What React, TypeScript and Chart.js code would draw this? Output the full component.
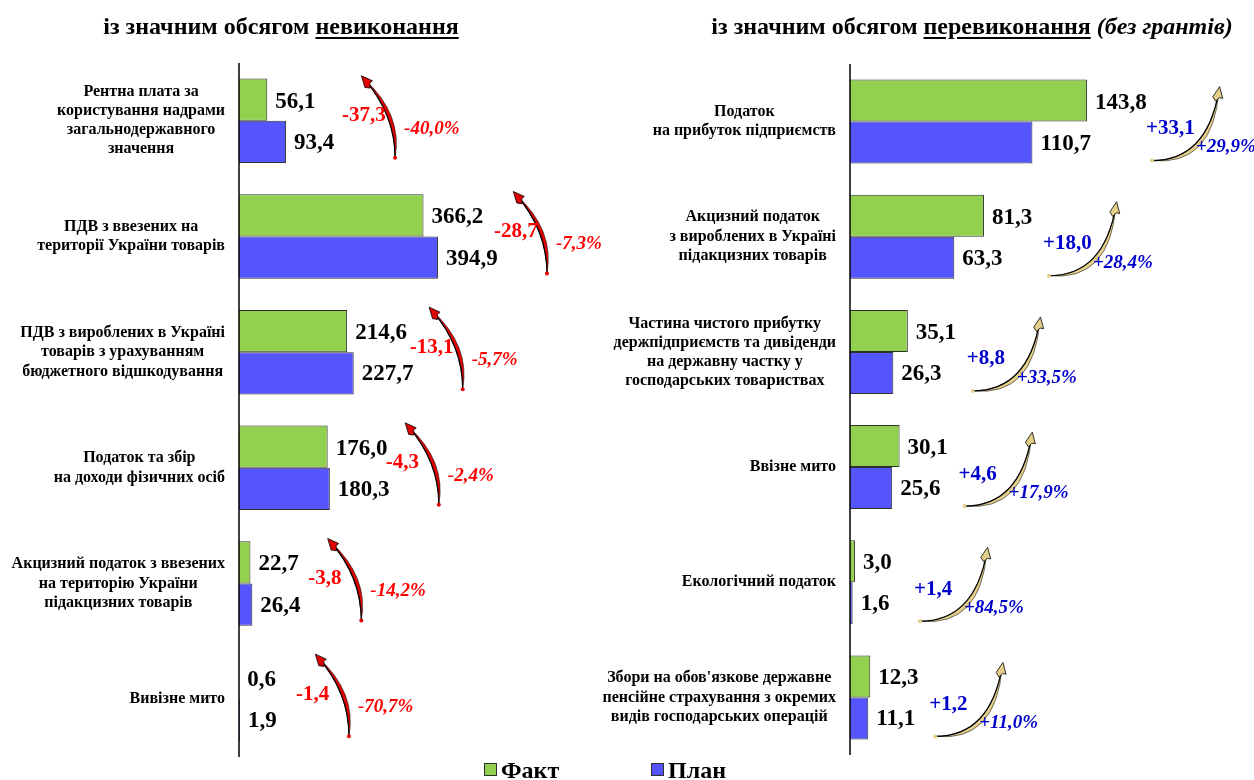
import React, { useEffect, useRef } from "react";
import { Chart, registerables } from "chart.js";
Chart.register(...registerables);

const FONT = '"Liberation Serif", "Times New Roman", serif';

// ---------- data ----------
const leftCategories: string[][] = [
  ["Рентна плата за", "користування надрами", "загальнодержавного", "значення"],
  ["ПДВ з ввезених на", "території України товарів"],
  ["ПДВ з вироблених в Україні", "товарів з урахуванням", "бюджетного відшкодування"],
  ["Податок та збір", "на доходи фізичних осіб"],
  ["Акцизний податок з ввезених", "на територію України", "підакцизних товарів"],
  ["Вивізне мито"],
];
const leftFact = [56.1, 366.2, 214.6, 176.0, 22.7, 0.6];
const leftPlan = [93.4, 394.9, 227.7, 180.3, 26.4, 1.9];
const leftDiff = [-37.3, -28.7, -13.1, -4.3, -3.8, -1.4];
const leftPct = [-40.0, -7.3, -5.7, -2.4, -14.2, -70.7];

const rightCategories: string[][] = [
  ["Податок", "на прибуток підприємств"],
  ["Акцизний податок", "з вироблених в Україні", "підакцизних товарів"],
  ["Частина чистого прибутку", "держпідприємств та дивіденди", "на державну частку у", "господарських товариствах"],
  ["Ввізне мито"],
  ["Екологічний податок"],
  ["Збори на обов'язкове державне", "пенсійне страхування з окремих", "видів господарських операцій"],
];
const rightFact = [143.8, 81.3, 35.1, 30.1, 3.0, 12.3];
const rightPlan = [110.7, 63.3, 26.3, 25.6, 1.6, 11.1];
const rightDiff = [33.1, 18.0, 8.8, 4.6, 1.4, 1.2];
const rightPct = [29.9, 28.4, 33.5, 17.9, 84.5, 11.0];

const seriesNames = ["Факт", "План"];
const GREEN = "#92D050";
const BLUE = "#5555FF";

const fmt = (v: number) => v.toFixed(1).replace(".", ",");
const fmtSigned = (v: number) => (v > 0 ? "+" : "") + fmt(v);
const fmtPct = (v: number) => fmtSigned(v) + "%";

type Pt = { x: number; y: number };

function drawCrescentArrow(
  ctx: CanvasRenderingContext2D,
  T: Pt,
  H: Pt,
  C: Pt,
  shift: Pt,
  fill: string
) {
  const C2 = { x: C.x + shift.x, y: C.y + shift.y };
  ctx.beginPath();
  ctx.moveTo(T.x, T.y);
  ctx.quadraticCurveTo(C.x, C.y, H.x, H.y);
  ctx.quadraticCurveTo(C2.x, C2.y, T.x, T.y);
  ctx.closePath();
  ctx.fillStyle = fill;
  ctx.fill();
  ctx.strokeStyle = "#202020";
  ctx.lineWidth = 0.6;
  ctx.stroke();
  ctx.beginPath();
  ctx.moveTo(T.x, T.y);
  ctx.quadraticCurveTo(C.x, C.y, H.x, H.y);
  ctx.strokeStyle = "#000";
  ctx.lineWidth = 1.2;
  ctx.stroke();
  let dx = H.x - C.x;
  let dy = H.y - C.y;
  const len = Math.hypot(dx, dy) || 1;
  dx /= len;
  dy /= len;
  const px = -dy;
  const py = dx;
  const tip = { x: H.x + dx * 4, y: H.y + dy * 4 };
  const base = { x: H.x - dx * 7, y: H.y - dy * 7 };
  ctx.beginPath();
  ctx.moveTo(tip.x, tip.y);
  ctx.lineTo(base.x + px * 5, base.y + py * 5);
  ctx.lineTo(base.x + px * 1.5, base.y + py * 1.5);
  ctx.lineTo(base.x - px * 1.5 - dx * 4, base.y - py * 1.5 - dy * 4);
  ctx.lineTo(base.x - px * 5, base.y - py * 5);
  ctx.closePath();
  ctx.fillStyle = fill;
  ctx.fill();
  ctx.strokeStyle = "#000";
  ctx.lineWidth = 0.8;
  ctx.stroke();
  ctx.beginPath();
  ctx.arc(T.x, T.y, 2, 0, Math.PI * 2);
  ctx.fillStyle = fill;
  ctx.fill();
}

function makeOverlay(cfg: {
  side: "left" | "right";
  cats: string[][];
  fact: number[];
  plan: number[];
  diff: number[];
  pct: number[];
}) {
  return {
    id: "overlay_" + cfg.side,
    afterDatasetsDraw(chart: any) {
      const ctx: CanvasRenderingContext2D = chart.ctx;
      const a = chart.chartArea;
      const xs = chart.scales.x;
      const ys = chart.scales.y;
      ctx.save();
      ctx.strokeStyle = "#000";
      ctx.lineWidth = 1.5;
      ctx.beginPath();
      ctx.moveTo(a.left, a.top);
      ctx.lineTo(a.left, a.bottom);
      ctx.stroke();

      const m0 = chart.getDatasetMeta(0);
      const m1 = chart.getDatasetMeta(1);
      cfg.cats.forEach((lines, i) => {
        const c = ys.getPixelForValue(i);
        ctx.font = `bold 16px ${FONT}`;
        ctx.fillStyle = "#000";
        ctx.textBaseline = "middle";
        ctx.textAlign = "center";
        const maxW = Math.max(...lines.map((l) => ctx.measureText(l).width));
        const cx = a.left - 14 - maxW / 2;
        const lh = lines.length > 3 ? 19 : 19.5;
        lines.forEach((l, j) => {
          ctx.fillText(l, cx, c + (j - (lines.length - 1) / 2) * lh);
        });
        ctx.font = `bold 23px ${FONT}`;
        ctx.textAlign = "left";
        const b0 = m0.data[i];
        const b1 = m1.data[i];
        ctx.fillText(fmt(cfg.fact[i]), b0.x + 8, b0.y + 2);
        ctx.fillText(fmt(cfg.plan[i]), b1.x + 8, b1.y + 1);
        const endPx = xs.getPixelForValue(Math.max(cfg.fact[i], cfg.plan[i]));
        if (cfg.side === "left") {
          const L = endPx + 56;
          const H = { x: L + 22, y: c - 42 };
          const T = { x: L + 53, y: c + 37 };
          const C = { x: T.x, y: H.y + 0.45 * (T.y - H.y) };
          drawCrescentArrow(ctx, T, H, C, { x: 8, y: 0 }, "#E00000");
          ctx.fillStyle = "#FF0000";
          ctx.font = `bold 21px ${FONT}`;
          ctx.textAlign = "left";
          ctx.fillText(fmtSigned(cfg.diff[i]), L, c - 5);
          ctx.font = `italic bold 19px ${FONT}`;
          ctx.fillText(fmtPct(cfg.pct[i]), L + 62, c + 8);
        } else {
          const L = endPx + 59;
          const T = { x: L + 6, y: c + 39 };
          const H = { x: L + 73, y: c - 31 };
          const C = { x: H.x - 12, y: T.y };
          drawCrescentArrow(ctx, T, H, C, { x: 6, y: 6 }, "#E3CF8A");
          ctx.fillStyle = "#0000CC";
          ctx.font = `bold 21px ${FONT}`;
          ctx.textAlign = "left";
          ctx.fillText(fmtSigned(cfg.diff[i]), L, c + 7);
          ctx.font = `italic bold 19px ${FONT}`;
          ctx.fillText(fmtPct(cfg.pct[i]), L + 50, c + 26);
        }
      });
      ctx.restore();
    },
  };
}

function BarPanel(props: {
  width: number;
  height: number;
  side: "left" | "right";
  cats: string[][];
  fact: number[];
  plan: number[];
  diff: number[];
  pct: number[];
  xMax: number;
  padding: { left: number; right: number; top: number; bottom: number };
}) {
  const ref = useRef<HTMLCanvasElement | null>(null);
  useEffect(() => {
    if (!ref.current) return;
    const chart = new Chart(ref.current, {
      type: "bar",
      data: {
        labels: props.cats.map((l) => l.join(" ")),
        datasets: [
          {
            label: seriesNames[0],
            data: props.fact,
            backgroundColor: GREEN,
            borderColor: "#303030",
            borderWidth: 1,
            categoryPercentage: 0.73,
            barPercentage: 1,
          },
          {
            label: seriesNames[1],
            data: props.plan,
            backgroundColor: BLUE,
            borderColor: "#303030",
            borderWidth: 1,
            categoryPercentage: 0.73,
            barPercentage: 1,
          },
        ],
      },
      options: {
        indexAxis: "y",
        animation: false,
        responsive: false,
        maintainAspectRatio: false,
        layout: { padding: props.padding },
        scales: {
          x: { display: false, min: 0, max: props.xMax },
          y: { display: false },
        },
        plugins: { legend: { display: false }, tooltip: { enabled: false } },
      },
      plugins: [
        makeOverlay({
          side: props.side,
          cats: props.cats,
          fact: props.fact,
          plan: props.plan,
          diff: props.diff,
          pct: props.pct,
        }),
      ],
    } as any);
    return () => chart.destroy();
  }, []);
  return (
    <canvas
      ref={ref}
      width={props.width}
      height={props.height}
      style={{ display: "block", width: props.width, height: props.height }}
    />
  );
}

export default function App() {
  const titleStyle: React.CSSProperties = {
    position: "absolute",
    top: 14,
    width: 700,
    textAlign: "center",
    fontFamily: FONT,
    fontWeight: "bold",
    fontSize: 24,
    lineHeight: "24px",
    color: "#000",
    whiteSpace: "nowrap",
  };
  const ul: React.CSSProperties = {
    textDecoration: "underline",
    textDecorationThickness: "2px",
    textUnderlineOffset: "3px",
  };
  const legendText: React.CSSProperties = {
    position: "absolute",
    top: 758,
    fontFamily: FONT,
    fontWeight: "bold",
    fontSize: 24,
    lineHeight: "24px",
    color: "#000",
  };
  const sq: React.CSSProperties = {
    position: "absolute",
    top: 763,
    width: 11,
    height: 11,
    border: "1px solid #303030",
  };
  return (
    <div
      style={{
        position: "fixed",
        left: 0,
        top: 0,
        width: 1254,
        height: 780,
        overflow: "hidden",
        background: "#fff",
      }}
    >
      <div style={{ position: "absolute", left: 0, top: 0 }}>
        <BarPanel
          width={630}
          height={780}
          side="left"
          cats={leftCategories}
          fact={leftFact}
          plan={leftPlan}
          diff={leftDiff}
          pct={leftPct}
          xMax={650}
          padding={{ left: 239, right: 63.5, top: 63, bottom: 23 }}
        />
      </div>
      <div style={{ position: "absolute", left: 580, top: 0 }}>
        <BarPanel
          width={674}
          height={780}
          side="right"
          cats={rightCategories}
          fact={rightFact}
          plan={rightPlan}
          diff={rightDiff}
          pct={rightPct}
          xMax={230}
          padding={{ left: 270, right: 25, top: 64, bottom: 25 }}
        />
      </div>
      <div style={{ ...titleStyle, left: 281 - 350 }}>
        із значним обсягом <span style={ul}>невиконання</span>
      </div>
      <div style={{ ...titleStyle, left: 972 - 350 }}>
        із значним обсягом <span style={ul}>перевиконання</span>{" "}
        <i>(без грантів)</i>
      </div>
      <div style={{ ...sq, left: 484, background: GREEN }} />
      <div style={{ ...legendText, left: 501 }}>{seriesNames[0]}</div>
      <div style={{ ...sq, left: 651, background: BLUE }} />
      <div style={{ ...legendText, left: 668 }}>{seriesNames[1]}</div>
    </div>
  );
}
